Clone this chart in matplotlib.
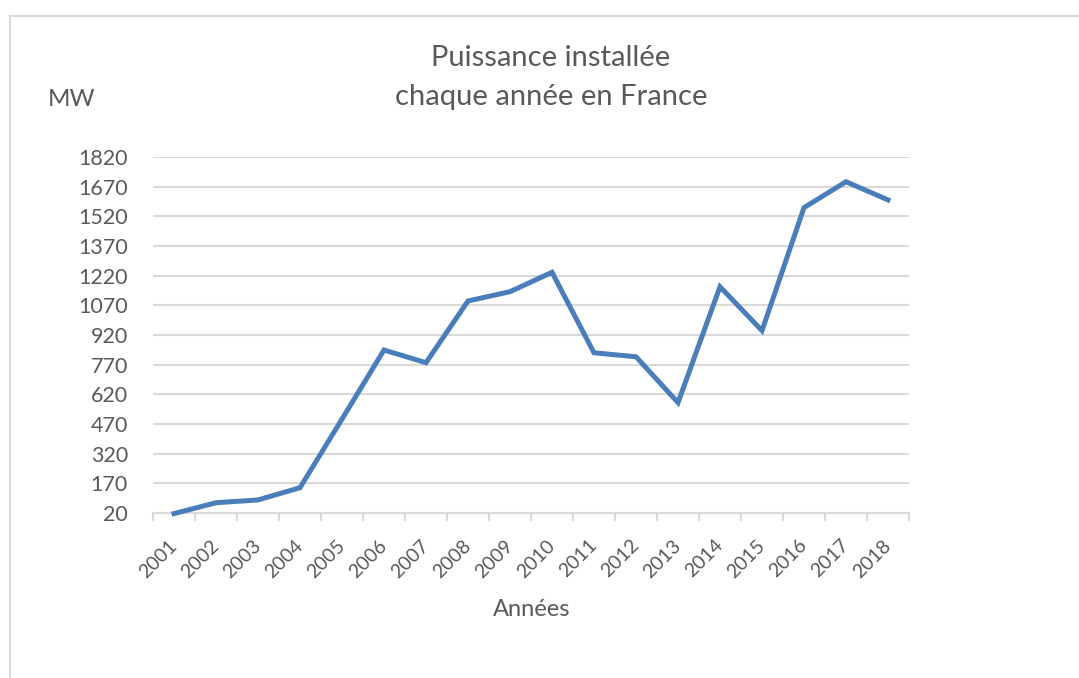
import numpy as np
import matplotlib.pyplot as plt
import matplotlib.transforms as mtransforms
from matplotlib.lines import Line2D

# Puissance installée chaque année (MW)
years = [str(y) for y in range(2001, 2019)]
mw = [17, 72, 86, 148, 495, 844, 780, 1092, 1139, 1237,
      830, 810, 578, 1164, 942, 1564, 1695, 1603]
yticks = list(range(20, 1821, 150))

plt.rcParams['font.family'] = ['Lato', 'DejaVu Sans']
text_col = '#595959'
grid_col = '#d9d9d9'

W, H = 1079, 678
fig = plt.figure(figsize=(W / 100, H / 100), dpi=100)
ax = fig.add_axes([153 / W, 1 - 513 / H, (909 - 153) / W, (513 - 157) / H])

x = np.arange(len(years))
ax.plot(x, mw, color='#4a7ebb', lw=3.6, solid_joinstyle='miter', clip_on=False, zorder=3)

ax.set_xlim(-0.5, len(years) - 0.5)
ax.set_ylim(20, 1820)
ax.set_yticks(yticks)
ax.set_yticklabels([str(v) for v in yticks])
ax.yaxis.grid(True, color=grid_col, lw=1.5)
ax.set_axisbelow(True)

ax.set_xticks(x)
ax.set_xticklabels(years, rotation=45, ha='right', va='top', rotation_mode='anchor')
ax.set_xticks(np.arange(-0.5, len(years)), minor=True)
ax.tick_params(axis='x', which='major', length=0, pad=17, labelsize=14, labelcolor=text_col)
ax.tick_params(axis='x', which='minor', length=6, width=1.5, color=grid_col)
ax.tick_params(axis='y', length=0, pad=18, labelsize=15.5, labelcolor=text_col)

# décaler un peu les années vers la gauche
shift = mtransforms.ScaledTranslation(-6 / 100, 0, fig.dpi_scale_trans)
for lab in ax.get_xticklabels():
    lab.set_transform(lab.get_transform() + shift)

for s in ['top', 'right', 'left']:
    ax.spines[s].set_visible(False)
ax.spines['bottom'].set_color(grid_col)
ax.spines['bottom'].set_linewidth(1.5)

fig.text(551 / W, 1 - 58 / H, 'Puissance installée',
         ha='center', va='center', fontsize=21, color=text_col)
fig.text(551 / W, 1 - 97 / H, 'chaque année en France',
         ha='center', va='center', fontsize=21, color=text_col)
fig.text(48 / W, 1 - 100 / H, 'MW', ha='left', va='center', fontsize=17.5, color=text_col)
fig.text(532 / W, 1 - 610 / H, 'Années', ha='center', va='center', fontsize=17, color=text_col)

# cadre du graphique
fig.add_artist(Line2D([9.5 / W, 9.5 / W], [0, 1 - 16 / H], transform=fig.transFigure,
                      color=grid_col, lw=1.5))
fig.add_artist(Line2D([9.5 / W, 1], [1 - 16 / H, 1 - 16 / H], transform=fig.transFigure,
                      color=grid_col, lw=1.5))

fig.savefig('out.png', dpi=100)
